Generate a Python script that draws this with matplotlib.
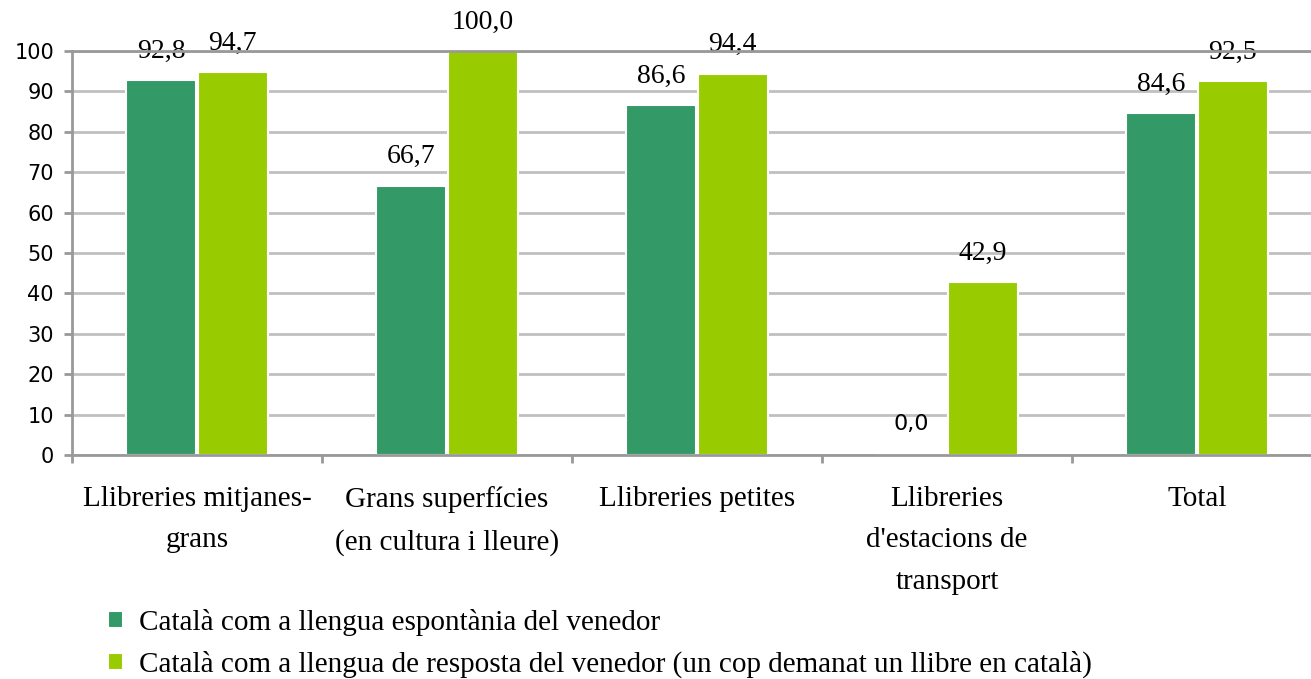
import numpy as np
import matplotlib.pyplot as plt
from matplotlib.ticker import FixedLocator

categories = ["Llibreries mitjanes-\ngrans", "Grans superfícies\n(en cultura i lleure)",
              "Llibreries petites", "Llibreries\nd'estacions de\ntransport", "Total"]
espontania = [92.8, 66.7, 86.6, 0.0, 84.6]
resposta = [94.7, 100.0, 94.4, 42.9, 92.5]
series_names = ["Català com a llengua espontània del venedor",
                "Català com a llengua de resposta del venedor (un cop demanat un llibre en català)"]
yticks = list(range(0, 101, 10))

dark = "#339966"
light = "#99CC00"
axis_col = "#999999"
grid_col = "#C0C0C0"
serif = "Liberation Serif"
sans = "DejaVu Sans"

W, H = 1311, 679
fig = plt.figure(figsize=(W / 100, H / 100), dpi=100)
ax = fig.add_axes([72 / W, (H - 455) / H, 1250 / W, 404 / H])

x = np.arange(len(categories))
bw = 0.28
off = 0.143
b1 = ax.bar(x - off, espontania, bw, color=dark, edgecolor="white", linewidth=1.5,
            label=series_names[0], zorder=3)
b2 = ax.bar(x + off, resposta, bw, color=light, edgecolor="white", linewidth=1.5,
            label=series_names[1], zorder=3)

ax.set_xlim(-0.5, len(categories) - 0.5)
ax.set_ylim(0, 100)
ax.yaxis.set_major_locator(FixedLocator(yticks))
ax.grid(axis="y", color=grid_col, linewidth=2, zorder=0)
ax.set_axisbelow(True)

ax.spines["right"].set_visible(False)
for s in ["left", "bottom", "top"]:
    ax.spines[s].set_color(axis_col)
    ax.spines[s].set_linewidth(2)
    ax.spines[s].set_zorder(4)

ax.set_xticks(x)
ax.set_xticklabels(categories, fontfamily=serif, fontsize=21, linespacing=1.78)
ax.tick_params(axis="x", which="major", length=0, pad=22)
ax.set_xticks(np.arange(len(categories)) - 0.5, minor=True)
ax.tick_params(axis="x", which="minor", length=6, width=2, color=axis_col)
ax.tick_params(axis="y", length=6, width=2, color=axis_col, labelsize=15, pad=7)
for lab in ax.get_yticklabels():
    lab.set_fontfamily(sans)

for bars, vals in [(b1, espontania), (b2, resposta)]:
    for rect, v in zip(bars, vals):
        txt = f"{v:.1f}".replace(".", ",")
        cx = rect.get_x() + rect.get_width() / 2
        if v == 0:
            ax.annotate(txt, (cx, v), xytext=(0, 18), textcoords="offset points",
                        ha="center", va="baseline", fontsize=16, fontfamily=sans)
        else:
            ax.annotate(txt, (cx, v), xytext=(0, 16), textcoords="offset points",
                        ha="center", va="baseline", fontsize=20, fontfamily=serif)

fig.legend(handles=[b1, b2], labels=series_names, loc="upper left",
           bbox_to_anchor=(108 / W, (H - 609) / H), frameon=False,
           prop={"family": serif, "size": 21}, handlelength=0.5, handleheight=0.5,
           handletextpad=0.55, labelspacing=0.5, borderpad=0, borderaxespad=0)

fig.savefig("out.png", dpi=100)
